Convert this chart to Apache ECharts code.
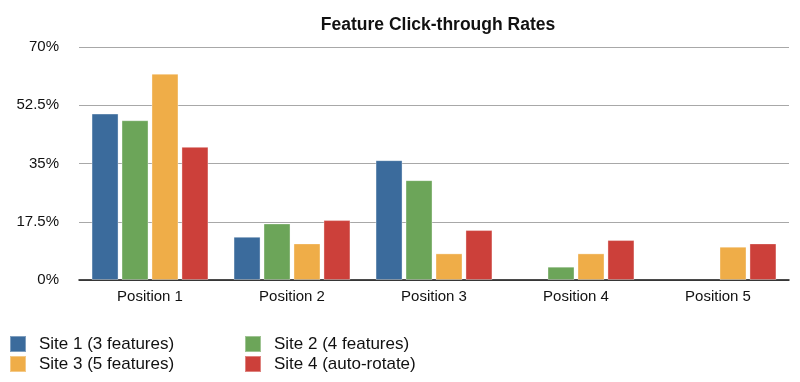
<!DOCTYPE html>
<html>
<head>
<meta charset="utf-8">
<script src="https://cdn.jsdelivr.net/npm/echarts@6/dist/echarts.min.js"></script>
<style>html,body{margin:0;padding:0;background:#fff}#c{width:800px;height:382px}</style>
</head>
<body>
<div id="c"></div>
<script>
const categories = ['Position 1', 'Position 2', 'Position 3', 'Position 4', 'Position 5'];
const seriesNames = ['Site 1 (3 features)', 'Site 2 (4 features)', 'Site 3 (5 features)', 'Site 4 (auto-rotate)'];
const site1 = [50, 13, 36, null, null];
const site2 = [48, 17, 30, 4, null];
const site3 = [62, 11, 8, 8, 10];
const site4 = [40, 18, 15, 12, 11];
const yTicks = [0, 17.5, 35, 52.5, 70];
const colors = ['#3b6b9c', '#6ca559', '#efad48', '#cc403a'];

const seriesData = [site1, site2, site3, site4];
const font = 'Liberation Sans, Arial, sans-serif';
const legendPos = [[9, 335], [244, 335], [9, 355], [244, 355]];

const chart = echarts.init(document.getElementById('c'), null, {renderer: 'canvas'});
chart.setOption({
  animation: false,
  color: colors,
  title: {
    text: 'Feature Click-through Rates',
    left: 433, top: 11, textAlign: 'center',
    textStyle: {fontFamily: font, fontSize: 17.5, fontWeight: 'bold', color: '#111'}
  },
  legend: seriesNames.map((n, i) => ({
    data: [n],
    left: legendPos[i][0], top: legendPos[i][1],
    itemWidth: 16, itemHeight: 16, itemGap: 0,
    icon: 'rect',
    padding: 0,
    textStyle: {fontFamily: font, fontSize: 17, color: '#111', padding: [0, 0, 0, 8]}
  })),
  grid: {left: 79, right: 11, top: 47, bottom: 102},
  xAxis: {
    type: 'category',
    data: categories,
    axisLine: {lineStyle: {color: '#111', width: 1.5}},
    axisTick: {show: false},
    axisLabel: {fontFamily: font, fontSize: 15, color: '#111', margin: 9}
  },
  yAxis: {
    type: 'value',
    min: 0, max: 70, interval: 17.5,
    axisLine: {show: false},
    axisTick: {show: false},
    axisLabel: {fontFamily: font, fontSize: 15, color: '#111', margin: 20,
      formatter: v => (yTicks.includes(v) ? v + '%' : '')},
    splitLine: {lineStyle: {color: '#a8a8a8', width: 1}}
  },
  series: seriesData.map((d, i) => ({
    name: seriesNames[i],
    type: 'bar',
    data: d,
    barWidth: 27,
    barGap: '11%',
    itemStyle: {borderColor: 'rgba(255,255,255,0.35)', borderWidth: 1}
  }))
});
</script>
</body>
</html>
